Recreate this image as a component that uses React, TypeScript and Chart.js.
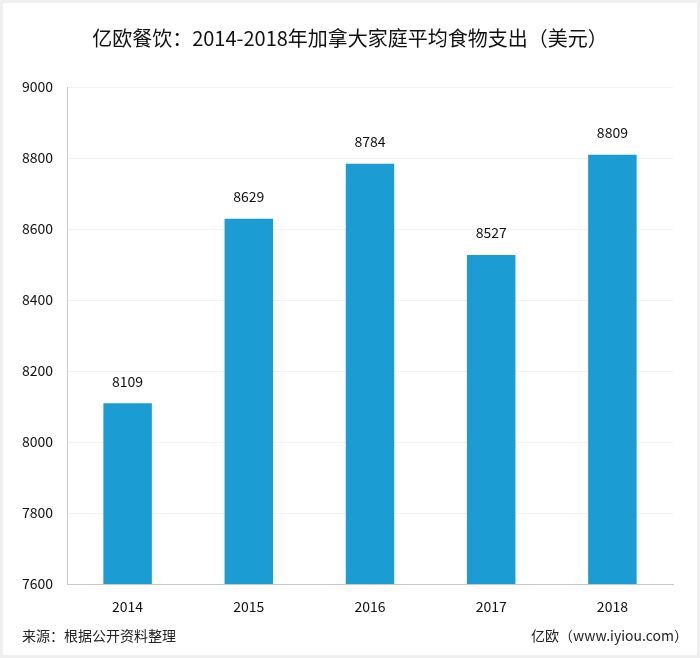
import React, { useEffect, useRef } from "react";
import { Chart, registerables } from "chart.js";

Chart.register(...registerables);

const categories = ["2014", "2015", "2016", "2017", "2018"];
const values = [8109, 8629, 8784, 8527, 8809];
const yTicks = [7600, 7800, 8000, 8200, 8400, 8600, 8800, 9000];
const titleText = "亿欧餐饮：2014-2018年加拿大家庭平均食物支出（美元）";
const sourceText = "来源：根据公开资料整理";
const brandText = "亿欧（www.iyiou.com）";

const FONT = '"Noto Sans CJK SC", "Noto Sans", sans-serif';

export default function App() {
  const ref = useRef<HTMLCanvasElement | null>(null);

  useEffect(() => {
    document.body.style.margin = "0";
    const canvas = ref.current!;
    const textPlugin = {
      id: "texts",
      afterDraw(chart: any) {
        const ctx = chart.ctx;
        ctx.save();
        ctx.fillStyle = "#111";
        ctx.textBaseline = "middle";
        ctx.font = `20px ${FONT}`;
        ctx.textAlign = "center";
        ctx.fillText(titleText, 347, 35);
        ctx.font = `14px ${FONT}`;
        ctx.fillStyle = "#222";
        ctx.textAlign = "left";
        ctx.fillText(sourceText, 19, 633);
        ctx.textAlign = "right";
        ctx.fillText(brandText, 685, 633);
        ctx.fillStyle = "#111";
        ctx.textAlign = "center";
        ctx.font = `14px ${FONT}`;
        const meta = chart.getDatasetMeta(0);
        meta.data.forEach((bar: any, i: number) => {
          ctx.fillText(String(values[i]), bar.x, bar.y - 22);
        });
        ctx.restore();
      },
    };

    const chart = new Chart(canvas, {
      type: "bar",
      data: {
        labels: categories,
        datasets: [
          {
            data: values,
            backgroundColor: "#1b9dd3",
            borderWidth: 0,
            barPercentage: 0.4,
            categoryPercentage: 1,
          },
        ],
      },
      options: {
        animation: false,
        responsive: false,
        maintainAspectRatio: false,
        layout: { padding: { top: 84, right: 24, bottom: 31, left: 0 } },
        plugins: {
          legend: { display: false },
          title: { display: false },
          tooltip: { enabled: false },
        },
        scales: {
          x: {
            grid: { display: false, drawTicks: false },
            border: { display: true, color: "#c8c8c8", width: 1 },
            ticks: { color: "#111", font: { family: FONT, size: 14 }, padding: 14 },
            afterFit: (s: any) => {
              s.height = 40;
            },
          },
          y: {
            min: 7600,
            max: 9000,
            afterBuildTicks: (s: any) => {
              s.ticks = yTicks.map((v) => ({ value: v }));
            },
            grid: { color: "#f3f3f3", drawTicks: false },
            border: { display: true, color: "#c8c8c8", width: 1 },
            ticks: {
              color: "#111",
              font: { family: FONT, size: 14 },
              padding: 14,
              callback: (v: any) => String(v),
            },
            afterFit: (s: any) => {
              s.width = 64;
            },
          },
        },
      },
      plugins: [textPlugin],
    });
    return () => chart.destroy();
  }, []);

  return (
    <div
      style={{
        position: "fixed",
        left: 0,
        top: 0,
        width: 700,
        height: 658,
        background: "#efefef",
        padding: 3,
        boxSizing: "border-box",
      }}
    >
      <canvas
        ref={ref}
        width={694}
        height={652}
        style={{ display: "block", background: "#fff", width: 694, height: 652 }}
      />
    </div>
  );
}
